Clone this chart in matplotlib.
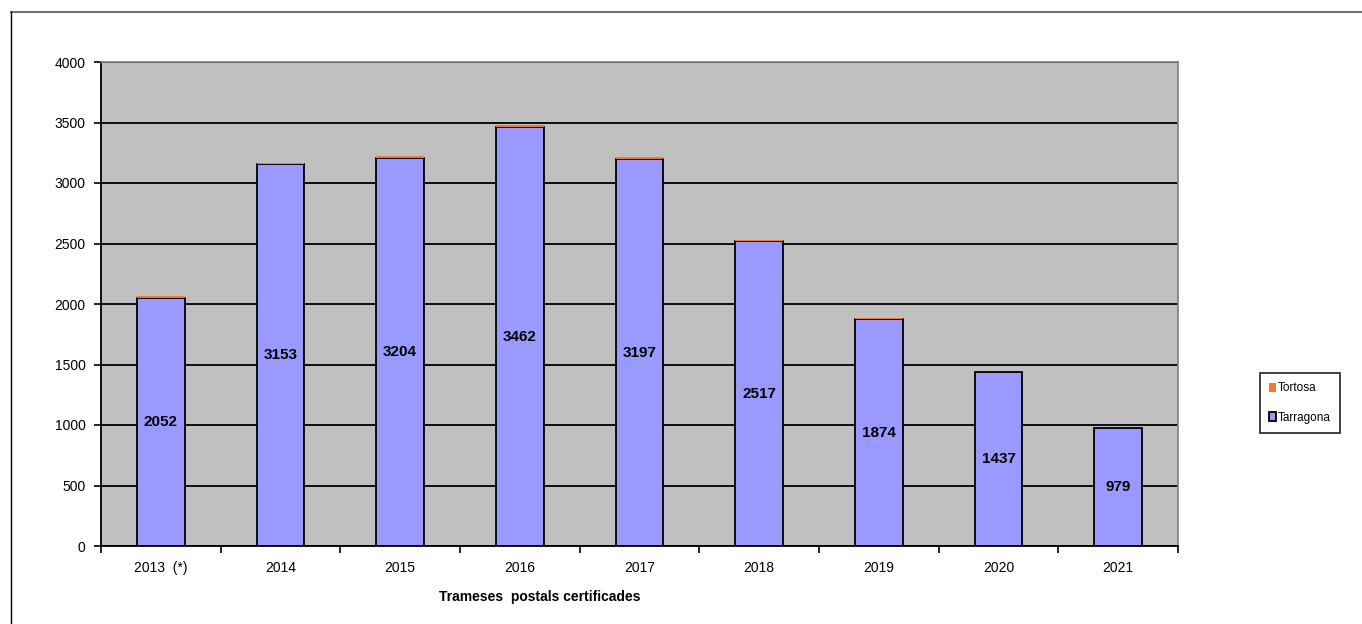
import numpy as np
import matplotlib.pyplot as plt
from matplotlib.lines import Line2D

anys = ['2013  (*)', '2014', '2015', '2016', '2017', '2018', '2019', '2020', '2021']
tarragona = [2052, 3153, 3204, 3462, 3197, 2517, 1874, 1437, 979]
tortosa = [14, 16, 16, 20, 16, 12, 14, 0, 0]

plt.rcParams['font.family'] = ['Liberation Sans', 'DejaVu Sans']

fig = plt.figure(figsize=(13.62, 6.24), dpi=100)
ax = fig.add_axes([101 / 1362, 1 - 546 / 624, (1178 - 101) / 1362, (546 - 62) / 624])
ax.set_facecolor('#C0C0C0')

x = np.arange(len(anys))
amplada = 0.4

# graella horitzontal
ax.set_axisbelow(True)
ax.yaxis.grid(True, color='black', linewidth=1.3)

ax.bar(x, tarragona, width=amplada, color='#9999FF',
       edgecolor='black', linewidth=1.3, label='Tarragona')
ax.bar(x, tortosa, width=amplada, bottom=tarragona, color='#F07830',
       edgecolor='none', label='Tortosa', zorder=3)

for xi, v in zip(x, tarragona):
    ax.text(xi, v / 2, str(v), ha='center', va='center',
            fontsize=11, fontweight='bold', color='black')

ax.set_xlim(-0.5, len(anys) - 0.5)
ax.set_ylim(0, 4000)
ax.set_yticks(range(0, 4001, 500))
ax.tick_params(axis='y', labelsize=10, length=5, width=1.2, direction='out', pad=6)

ax.set_xticks(x)
ax.set_xticklabels(anys, fontsize=10)
ax.set_xticks(np.arange(-0.5, len(anys), 1), minor=True)
ax.tick_params(axis='x', which='major', length=0, pad=11)
ax.tick_params(axis='x', which='minor', length=5, width=1.2, direction='out')

for costat in ['top', 'right']:
    ax.spines[costat].set_color('#808080')
    ax.spines[costat].set_linewidth(1.2)
for costat in ['left', 'bottom']:
    ax.spines[costat].set_color('black')
    ax.spines[costat].set_linewidth(1.3)

fig.text(540 / 1362, 1 - 597 / 624, 'Trameses  postals certificades',
         ha='center', va='center', fontsize=10, fontweight='bold')

handles, labels = ax.get_legend_handles_labels()
leg = fig.legend(handles[::-1], labels[::-1], loc='center',
                 bbox_to_anchor=(1300 / 1362, 1 - 403 / 624),
                 fontsize=8.5, frameon=True, fancybox=False,
                 handlelength=0.6, handleheight=0.8, handletextpad=0.15,
                 labelspacing=1.5, borderpad=0.8, borderaxespad=0,
                 edgecolor='black')
leg.get_frame().set_linewidth(1.3)

# marc exterior del gràfic
fig.add_artist(Line2D([11 / 1362, 1], [1 - 12 / 624, 1 - 12 / 624],
                      color='#707070', linewidth=1.5, transform=fig.transFigure))
fig.add_artist(Line2D([11 / 1362, 11 / 1362], [0, 1 - 12 / 624],
                      color='black', linewidth=1.0, transform=fig.transFigure))

fig.savefig('out.png', dpi=100)
